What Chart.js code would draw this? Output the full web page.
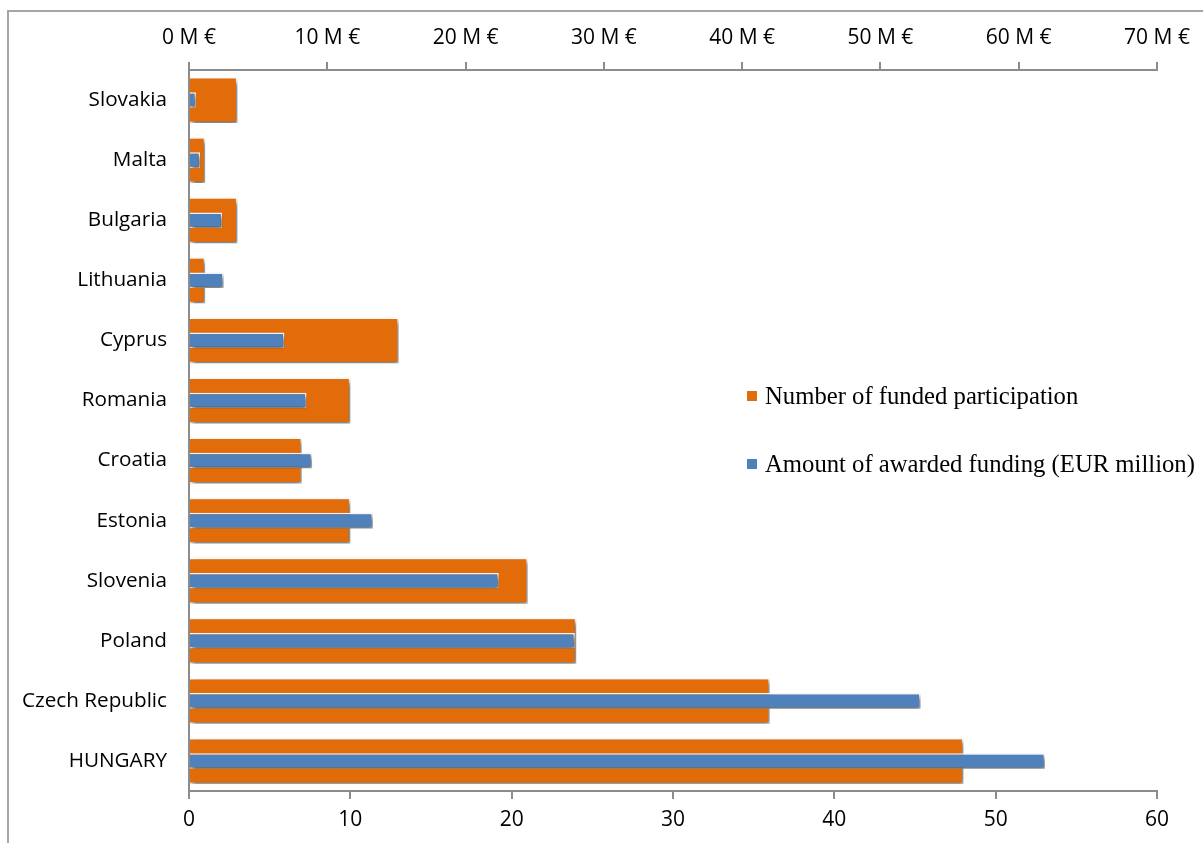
<!DOCTYPE html>
<html>
<head>
<meta charset="utf-8">
<script src="https://cdn.jsdelivr.net/npm/chart.js@4/dist/chart.umd.min.js"></script>
<style>
    html, body { margin: 0; padding: 0; background: #fff; }
    #wrap { position: relative; width: 1203px; height: 843px; overflow: hidden; }
    #frame {
        position: absolute; left: 7px; top: 10px; width: 1300px; height: 900px;
        border-left: 2px solid #a6a6a6; border-top: 2px solid #a6a6a6;
        pointer-events: none;
    }
    #legend {
        position: absolute; left: 747px; top: 384px;
        margin: 0; padding: 0; list-style: none;
        font-family: 'Liberation Serif', 'Times New Roman', serif;
        font-size: 24.7px; color: #000;
    }
    #legend li {
        display: flex; align-items: center;
        height: 24.5px; line-height: 24.5px; margin-bottom: 43.5px;
        white-space: nowrap;
    }
    #legend .box { width: 10px; height: 10px; margin-right: 8px; }
</style>
</head>
<body>
<div id="wrap">
    <canvas id="fundingChart" width="1203" height="843"></canvas>
    <div id="frame"></div>
    <ul id="legend"></ul>
</div>
<script>
// Countries, top to bottom
const countries = ['Slovakia', 'Malta', 'Bulgaria', 'Lithuania', 'Cyprus', 'Romania',
    'Croatia', 'Estonia', 'Slovenia', 'Poland', 'Czech Republic', 'HUNGARY'];

// Number of funded participations (bottom axis)
const participations = [3, 1, 3, 1, 13, 10, 7, 10, 21, 24, 36, 48];

// Awarded funding in EUR million (top axis)
const fundingMillions = [0.5, 0.8, 2.4, 2.5, 6.9, 8.5, 8.9, 13.3, 22.4, 27.9, 52.9, 61.9];

// Axis ranges / tick steps
const participationAxis = { min: 0, max: 60, step: 10 };
const fundingAxis = { min: 0, max: 70, step: 10 };
const fundingUnit = ' M €';

const axisGrey = '#8c8c8c';
const fontFamily = "'Open Sans', sans-serif";

// soft drop shadow under every bar
const barShadow = {
    id: 'barShadow',
    beforeDatasetDraw(chart) {
        const ctx = chart.ctx;
        ctx.save();
        ctx.shadowColor = 'rgba(0, 0, 0, 0.6)';
        ctx.shadowBlur = 5;
        ctx.shadowOffsetX = 2;
        ctx.shadowOffsetY = 3;
    },
    afterDatasetDraw(chart) {
        chart.ctx.restore();
    }
};

const ctx = document.getElementById('fundingChart').getContext('2d');

const chart = new Chart(ctx, {
    type: 'bar',
    data: {
        labels: countries,
        datasets: [
            {
                label: 'Number of funded participation',
                data: participations,
                xAxisID: 'x',
                backgroundColor: '#E36C0A',
                borderColor: '#ffffff',
                borderWidth: 1.5,
                grouped: false,
                categoryPercentage: 1,
                barPercentage: 0.765,
                order: 1
            },
            {
                label: 'Amount of awarded funding (EUR million)',
                data: fundingMillions,
                xAxisID: 'x2',
                backgroundColor: '#4F81BD',
                borderColor: '#ffffff',
                borderWidth: 1.5,
                grouped: false,
                categoryPercentage: 1,
                barPercentage: 0.26,
                order: 0
            }
        ]
    },
    options: {
        indexAxis: 'y',
        responsive: false,
        animation: false,
        layout: { padding: { left: 0, top: 0, right: 46, bottom: 0 } },
        plugins: {
            legend: { display: false },
            tooltip: { enabled: false }
        },
        scales: {
            y: {
                grid: { display: false, drawTicks: false },
                border: { display: true, color: axisGrey, width: 2 },
                ticks: { font: { family: fontFamily, size: 20.7 }, color: '#000', padding: 22 },
                afterFit(scale) { scale.width = 189; }
            },
            x: {
                position: 'bottom',
                min: participationAxis.min,
                max: participationAxis.max,
                grid: { drawOnChartArea: false, drawTicks: true, tickLength: 8, color: axisGrey, lineWidth: 2 },
                border: { display: true, color: axisGrey, width: 2 },
                ticks: { stepSize: participationAxis.step, font: { family: fontFamily, size: 21 }, color: '#000', padding: 8 },
                afterFit(scale) { scale.height = 52; }
            },
            x2: {
                position: 'top',
                min: fundingAxis.min,
                max: fundingAxis.max,
                grid: { drawOnChartArea: false, drawTicks: true, tickLength: 8, color: axisGrey, lineWidth: 2 },
                border: { display: true, color: axisGrey, width: 2 },
                ticks: {
                    stepSize: fundingAxis.step,
                    font: { family: fontFamily, size: 21 },
                    color: '#000',
                    padding: 11,
                    callback: v => v + fundingUnit
                },
                afterFit(scale) { scale.height = 70; }
            }
        }
    },
    plugins: [barShadow]
});

// legend sits inside the plot, to the right of the short bars
const legendList = document.getElementById('legend');
chart.options.plugins.legend.labels.generateLabels(chart)
    .sort((a, b) => a.datasetIndex - b.datasetIndex)
    .forEach(item => {
        const li = document.createElement('li');
        const box = document.createElement('span');
        box.className = 'box';
        box.style.background = item.fillStyle;
        li.appendChild(box);
        li.appendChild(document.createTextNode(item.text));
        legendList.appendChild(li);
    });
</script>
</body>
</html>
